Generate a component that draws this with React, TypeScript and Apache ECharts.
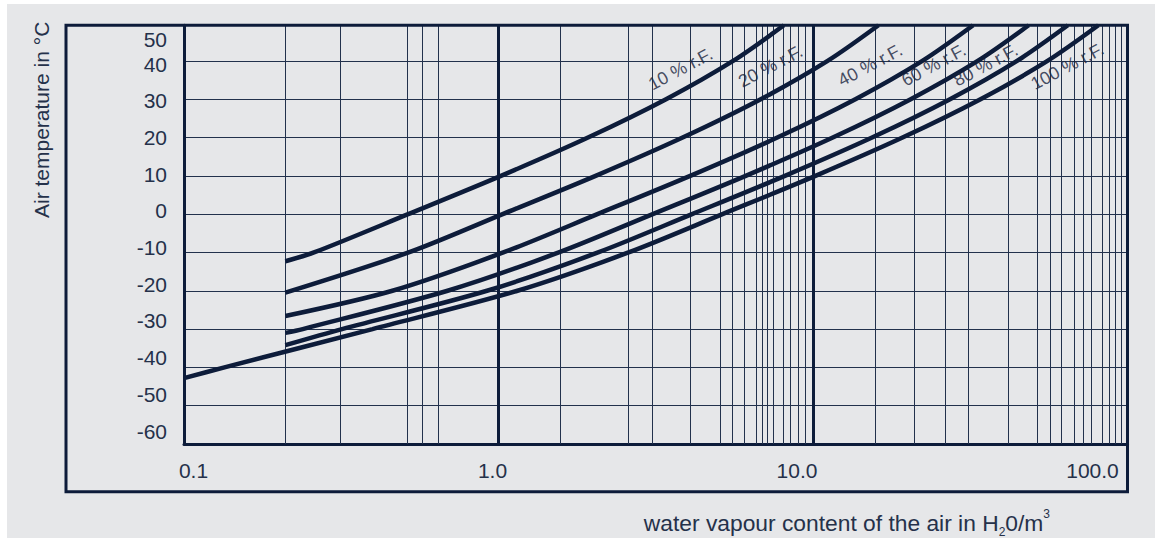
import React, { useEffect, useRef } from "react";
import * as echarts from "echarts";

// ---- data ----
const curveNames = ["10 % r.F.", "20 % r.F.", "40 % r.F.", "60 % r.F.", "80 % r.F.", "100 % r.F."];

// [water vapour content, air temperature]
const rh10 = [[0.21, -12.3], [0.259, -10], [0.516, 0], [1.018, 10], [1.926, 20], [3.41, 30], [5.57, 40], [8.08, 49.3]];
const rh20 = [[0.21, -20.5], [0.518, -10], [1.031, 0], [2.036, 10], [3.85, 20], [6.82, 30], [11.13, 40], [16.15, 49.3]];
const rh40 = [[0.21, -26.6], [0.46, -20], [1.036, -10], [2.062, 0], [4.07, 10], [7.7, 20], [13.64, 30], [22.27, 40], [32.3, 49.3]];
const rh60 = [[0.21, -31], [0.2385, -30], [0.689, -20], [1.555, -10], [3.093, 0], [6.11, 10], [11.56, 20], [20.45, 30], [33.4, 40], [48.5, 49.3]];
const rh80 = [[0.21, -34.2], [0.318, -30], [0.919, -20], [2.073, -10], [4.124, 0], [8.14, 10], [15.41, 20], [27.27, 30], [44.54, 40], [64.6, 49.3]];
const rh100 = [[0.1, -42.8], [0.1345, -40], [0.3975, -30], [1.149, -20], [2.591, -10], [5.155, 0], [10.18, 10], [19.26, 20], [34.09, 30], [55.67, 40], [80.8, 49.3]];

const xTickLabels = ["0.1", "1.0", "10.0", "100.0"];
const yTickLabels = [-60, -50, -40, -30, -20, -10, 0, 10, 20, 30, 40, 50];

// vertical grid lines (water vapour content values)
const gridXValues = [
  0.21, 0.315, 0.514, 0.573, 0.645,
  1.57, 2.59, 3.09, 4.08, 5.08, 5.55, 6.06, 6.59, 6.89, 7.17, 7.49, 8.03, 8.48, 8.97, 9.46,
  15.75, 21.0, 26.3, 31.3, 41.7, 51.9, 56.7, 61.9, 67.6, 72.7, 77.1, 83.0, 87.4, 91.9, 96.0,
];
const majorXValues = [1, 10];

const X_MIN = 0.1;
const X_MAX = 100;
const Y_MIN = -60;
const Y_MAX = 49.3;

const INK = "#0d1c3a";
const GRID_C = "#22314c";
const TEXT = "#25314a";
const LABEL_C = "#17233c";
const FONT = "Liberation Sans, Arial, sans-serif";

function buildOption(): any {
  const curves = [rh10, rh20, rh40, rh60, rh80, rh100];
  const labelCoords = [
    [3.79, 37.9],
    [7.33, 38.6],
    [15.2, 38.9],
    [24.2, 38.9],
    [35.4, 38.9],
    [64.4, 38.6],
  ];

  const vline = (width: number) => (params: any, api: any) => {
    const v = api.value(0);
    const p1 = api.coord([v, Y_MAX]);
    const p2 = api.coord([v, Y_MIN]);
    const x = width % 2 === 1 ? Math.round(p1[0] - 0.5) + 0.5 : Math.round(p1[0]);
    return {
      type: "line",
      shape: { x1: x, y1: p1[1], x2: x, y2: p2[1] },
      style: { stroke: width > 1 ? INK : GRID_C, lineWidth: width },
      silent: true,
    };
  };

  const xRich: any = {
    a: { fontSize: 21, color: TEXT, fontFamily: FONT, padding: [0, 0, 0, 19] },
    b: { fontSize: 21, color: TEXT, fontFamily: FONT, padding: [0, 12, 0, 0] },
    c: { fontSize: 21, color: TEXT, fontFamily: FONT, padding: [0, 32, 0, 0] },
    d: { fontSize: 21, color: TEXT, fontFamily: FONT, padding: [0, 70, 0, 0] },
  };
  const richKeys = ["a", "b", "c", "d"];

  return {
    animation: false,
    backgroundColor: "transparent",
    grid: [
      { left: 177, top: 21.3, width: 943.5, height: 418.7 },
      { left: 177, top: 23.3, width: 943.5, height: 403.7 },
    ],
    xAxis: [
      {
        type: "log",
        logBase: 10,
        gridIndex: 0,
        min: X_MIN,
        max: X_MAX,
        axisLine: { show: true, onZero: false, lineStyle: { color: INK, width: 3 } },
        axisTick: { show: false },
        splitLine: { show: false },
        axisLabel: {
          show: true,
          margin: 16,
          fontSize: 21,
          color: TEXT,
          fontFamily: FONT,
          formatter: (v: number) => {
            const idx = Math.round(Math.log10(v)) + 1;
            const k = richKeys[idx] || "b";
            return "{" + k + "|" + (xTickLabels[idx] ?? String(v)) + "}";
          },
          rich: xRich,
        },
      },
      { type: "value", gridIndex: 1, show: false, min: 0, max: 1 },
    ],
    yAxis: [
      {
        type: "value",
        gridIndex: 0,
        min: Y_MIN,
        max: Y_MAX,
        interval: 10,
        axisLine: { show: true, onZero: false, lineStyle: { color: INK, width: 3 } },
        axisTick: { show: false },
        axisLabel: { show: false },
        splitLine: { show: true, lineStyle: { color: GRID_C, width: 1 } },
      },
      {
        type: "value",
        gridIndex: 1,
        min: yTickLabels[0],
        max: yTickLabels[yTickLabels.length - 1],
        interval: 10,
        axisLine: { show: false },
        axisTick: { show: false },
        splitLine: { show: false },
        axisLabel: {
          show: true,
          margin: 17,
          fontSize: 21,
          color: TEXT,
          fontFamily: FONT,
          formatter: (v: number) => (v === yTickLabels[yTickLabels.length - 1] ? "{t|" + v + "}" : String(v)),
          rich: { t: { fontSize: 21, color: TEXT, fontFamily: FONT, padding: [24, 0, 0, 0] } },
        },
      },
    ],
    series: [
      {
        type: "custom",
        name: "grid-minor",
        xAxisIndex: 0,
        yAxisIndex: 0,
        silent: true,
        z: 1,
        data: gridXValues.map((v) => [v, Y_MIN]),
        renderItem: vline(1),
      },
      {
        type: "custom",
        name: "grid-major",
        xAxisIndex: 0,
        yAxisIndex: 0,
        silent: true,
        z: 1,
        data: majorXValues.map((v) => [v, Y_MIN]),
        renderItem: vline(3),
      },
      ...curves.map((c, i) => ({
        type: "line",
        name: curveNames[i],
        xAxisIndex: 0,
        yAxisIndex: 0,
        data: c,
        symbol: "none",
        showSymbol: false,
        smooth: 0.3,
        clip: true,
        silent: true,
        z: 5,
        lineStyle: { color: INK, width: 4.5 },
      })),
      {
        type: "scatter",
        name: "labels",
        xAxisIndex: 0,
        yAxisIndex: 0,
        symbolSize: 0,
        silent: true,
        z: 6,
        data: labelCoords.map((p, i) => ({ value: p, name: curveNames[i] })),
        label: {
          show: true,
          position: "inside",
          formatter: "{b}",
          rotate: 28,
          fontSize: 18,
          color: LABEL_C,
          fontFamily: FONT,
        },
      },
    ],
    graphic: [
      {
        type: "rect",
        z: 100,
        silent: true,
        shape: { x: 59, y: 21.3, width: 1061.5, height: 466.4 },
        style: { fill: "none", stroke: INK, lineWidth: 3 },
      },
      {
        type: "text",
        z: 100,
        x: 34,
        y: 214,
        rotation: Math.PI / 2,
        style: {
          text: "Air temperature in °C",
          fontSize: 21,
          fontFamily: FONT,
          fill: TEXT,
          align: "left",
          verticalAlign: "middle",
        },
      },
      {
        type: "text",
        z: 100,
        x: 1043,
        y: 519,
        style: {
          text: "{n|water vapour content of the air in H}{s|2}{n|0/m}{p|3}",
          align: "right",
          verticalAlign: "middle",
          fill: TEXT,
          fontFamily: FONT,
          fontSize: 22.8,
          rich: {
            n: { fontSize: 22.8, fontFamily: FONT, fill: TEXT, lineHeight: 30, verticalAlign: "middle" },
            s: { fontSize: 12, fontFamily: FONT, fill: TEXT, lineHeight: 12, verticalAlign: "bottom" },
            p: { fontSize: 12, fontFamily: FONT, fill: TEXT, lineHeight: 12, verticalAlign: "top" },
          },
        },
      },
    ],
  };
}

export default function App() {
  const ref = useRef<HTMLDivElement>(null);
  useEffect(() => {
    if (!ref.current) return;
    const chart = echarts.init(ref.current, undefined, { renderer: "svg" });
    chart.setOption(buildOption());
    return () => chart.dispose();
  }, []);
  return (
    <div
      ref={ref}
      style={{ position: "fixed", left: 7, top: 4, width: 1148, height: 534, background: "#e6e7e9" }}
    />
  );
}
